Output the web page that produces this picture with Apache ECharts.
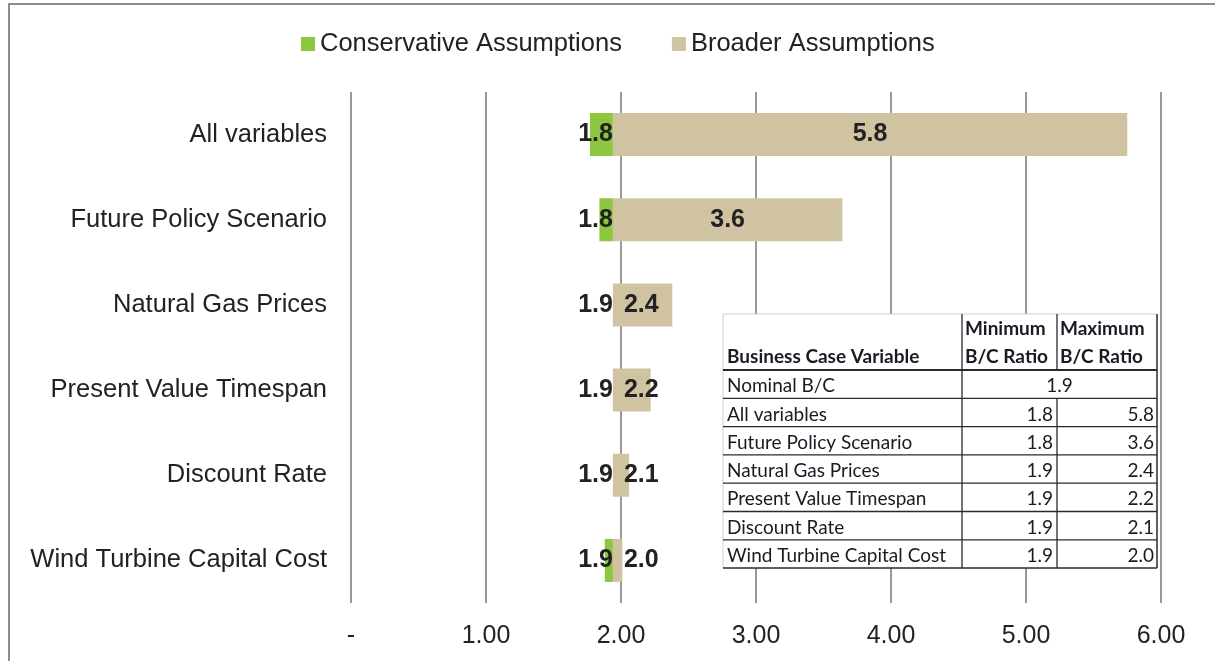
<!DOCTYPE html>
<html>
<head>
<meta charset="utf-8">
<title>Business Case Sensitivity – B/C Ratio</title>
<script src="https://cdn.jsdelivr.net/npm/echarts@6/dist/echarts.min.js"></script>
<style>
  html, body { margin: 0; padding: 0; background: #fff; }
  #chart { width: 1215px; height: 661px; }
</style>
</head>
<body>
<div id="chart"></div>
<script>
// Business case variables and the benefit/cost ratio range each produces
const categories = [
  'All variables',
  'Future Policy Scenario',
  'Natural Gas Prices',
  'Present Value Timespan',
  'Discount Rate',
  'Wind Turbine Capital Cost'
];
const nominalRatio = 1.94;
const minRatio = [1.77, 1.84, 1.94, 1.94, 1.94, 1.88];
const maxRatio = [5.75, 3.64, 2.38, 2.22, 2.06, 2.01];
const xTickLabels = ['-', '1.00', '2.00', '3.00', '4.00', '5.00', '6.00'];
const seriesNames = ['Conservative Assumptions', 'Broader Assumptions'];
const tableHeader = [['Business Case Variable'], ['Minimum', 'B/C Ratio'], ['Maximum', 'B/C Ratio']];
const nominalRowLabel = 'Nominal B/C';

const fmt = v => v.toFixed(1);
const FONT = 'Liberation Sans, Arial, Helvetica, sans-serif';
const TABLE_FONT = 'Lato, Carlito, Calibri, sans-serif';
const GREEN = '#8dc63f';
const TAN = '#cfc3a1';
const TEXT = '#222222';

// stacked pieces: invisible offset up to the minimum, then min→nominal, then nominal→max
const baseData = minRatio.slice();
const conservativeData = minRatio.map(v => +(nominalRatio - v).toFixed(4));
const broaderData = maxRatio.map(v => ({
  value: +(v - nominalRatio).toFixed(4),
  label: (v - nominalRatio) > 1
    ? { position: 'inside' }
    : { position: 'insideLeft', distance: 11 }
}));

// summary table drawn as graphic elements on top of the plot
function buildTable() {
  const left = 723, top = 314;
  const colW = [239, 95, 100];
  const headerH = 56, rowH = 28.3;
  const nRows = categories.length + 1;
  const width = colW[0] + colW[1] + colW[2];
  const height = headerH + nRows * rowH;
  const c1 = left + colW[0], c2 = c1 + colW[1], right = left + width;
  const Z = 100;
  const els = [];
  const dark = '#2a2a2a', light = '#cfcfcf';
  els.push({ type: 'rect', z: Z, shape: { x: left, y: top, width: width, height: height },
             style: { fill: '#ffffff', stroke: null } });
  const line = (x1, y1, x2, y2, stroke, lw) => els.push({
    type: 'line', z: Z + 1, shape: { x1, y1, x2, y2 }, style: { stroke, lineWidth: lw }
  });
  const text = (str, x, y, align, bold) => els.push({
    type: 'text',
    z: Z + 2,
    style: {
      text: str, x, y,
      align, textAlign: align,
      verticalAlign: 'middle', textVerticalAlign: 'middle',
      font: (bold ? 'bold ' : '') + '19px ' + TABLE_FONT,
      fill: '#1a1a24'
    }
  });
  // borders
  line(left, top, right, top, light, 1);
  line(left, top, left, top + height, light, 1);
  line(right, top, right, top + height, dark, 1.5);
  line(left, top + height, right, top + height, dark, 1.5);
  line(left, top + headerH, right, top + headerH, dark, 2);
  for (let r = 1; r < nRows; r++) {
    const y = top + headerH + r * rowH;
    line(left, y, right, y, dark, 1.3);
  }
  line(c1, top, c1, top + height, dark, 1.3);
  line(c2, top, c2, top + headerH, dark, 1.3);
  line(c2, top + headerH + rowH, c2, top + height, dark, 1.3);
  // header
  text(tableHeader[0][0], left + 4, top + headerH - 13, 'left', true);
  [c1, c2].forEach((cx, i) => {
    text(tableHeader[i + 1][0], cx + 3, top + 15, 'left', true);
    text(tableHeader[i + 1][1], cx + 3, top + headerH - 13, 'left', true);
  });
  // nominal row (merged value cell)
  let yc = top + headerH + rowH / 2 + 2;
  text(nominalRowLabel, left + 4, yc, 'left', false);
  text(fmt(nominalRatio), (c1 + right) / 2, yc, 'center', false);
  categories.forEach((name, i) => {
    yc = top + headerH + (i + 1.5) * rowH + 2;
    text(name, left + 4, yc, 'left', false);
    text(fmt(minRatio[i]), c2 - 4, yc, 'right', false);
    text(fmt(maxRatio[i]), right - 3, yc, 'right', false);
  });
  return { type: 'group', z: Z, silent: true, children: els };
}

const chart = echarts.init(document.getElementById('chart'), null, { renderer: 'canvas' });

const option = {
  backgroundColor: '#ffffff',
  animation: false,
  textStyle: { fontFamily: FONT, color: TEXT },
  legend: {
    data: seriesNames,
    left: 296,
    top: 26,
    itemWidth: 14,
    itemHeight: 14,
    itemGap: 50,
    icon: 'rect',
    textStyle: { fontSize: 25.5, color: TEXT, fontFamily: FONT }
  },
  grid: { left: 351, right: 54, top: 92, bottom: 58, containLabel: false },
  xAxis: {
    type: 'value',
    min: 0,
    max: 6,
    interval: 1,
    axisLine: { show: false },
    axisTick: { show: false },
    splitLine: { show: true, lineStyle: { color: '#999999', width: 2 } },
    axisLabel: {
      margin: 21,
      fontSize: 25,
      color: TEXT,
      fontFamily: FONT,
      formatter: v => xTickLabels[Math.round(v)]
    }
  },
  yAxis: {
    type: 'category',
    inverse: true,
    data: categories,
    axisLine: { show: false },
    axisTick: { show: false },
    splitLine: { show: false },
    axisLabel: { margin: 24, fontSize: 25.5, color: TEXT, fontFamily: FONT }
  },
  series: [
    {
      name: 'base',
      type: 'bar',
      stack: 'range',
      data: baseData,
      barWidth: 43,
      itemStyle: { color: 'rgba(0,0,0,0)' },
      silent: true,
      label: { show: false }
    },
    {
      name: seriesNames[0],
      type: 'bar',
      stack: 'range',
      data: conservativeData,
      barWidth: 43,
      itemStyle: { color: GREEN },
      label: {
        show: true,
        position: 'insideRight',
        distance: 0,
        fontSize: 25,
        fontWeight: 'bold',
        color: TEXT,
        fontFamily: FONT,
        formatter: p => fmt(minRatio[p.dataIndex])
      }
    },
    {
      name: seriesNames[1],
      type: 'bar',
      stack: 'range',
      data: broaderData,
      barWidth: 43,
      itemStyle: { color: TAN },
      label: {
        show: true,
        fontSize: 25,
        fontWeight: 'bold',
        color: TEXT,
        fontFamily: FONT,
        formatter: p => fmt(maxRatio[p.dataIndex])
      }
    }
  ],
  graphic: [
    {
      type: 'rect',
      silent: true,
      z: 0,
      shape: { x: 9, y: 4, width: 1400, height: 900 },
      style: { fill: 'none', stroke: '#8c8c8c', lineWidth: 2 }
    },
    buildTable()
  ]
};

chart.setOption(option);
</script>
</body>
</html>
